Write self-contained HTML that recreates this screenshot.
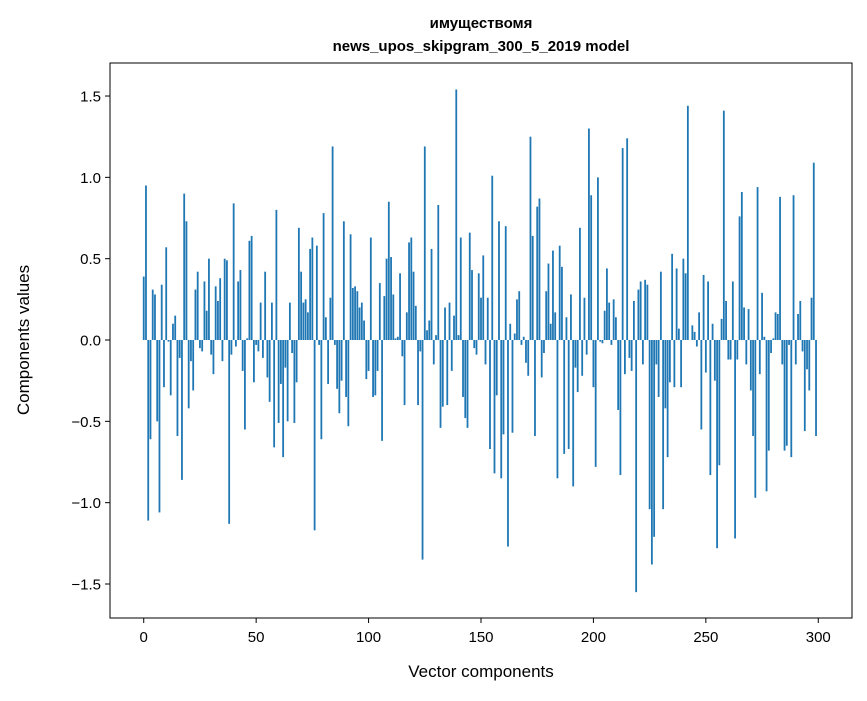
<!DOCTYPE html>
<html><head><meta charset="utf-8"><style>
body{margin:0;background:#fff;}
svg text{font-family:"Liberation Sans","DejaVu Sans",sans-serif;fill:#000;}
</style></head><body>
<svg id="chart" width="867" height="696">
<text x="481" y="28" text-anchor="middle" font-size="15" font-weight="bold">имуществомя</text>
<text x="481" y="51" text-anchor="middle" font-size="15" font-weight="bold">news_upos_skipgram_300_5_2019 model</text>
<g id="bars"></g>
<rect x="110" y="63" width="742" height="555" fill="none" stroke="#000" stroke-width="1"/>
<g id="xticks"></g>
<g id="yticks"></g>
<text x="481" y="677" text-anchor="middle" font-size="17">Vector components</text>
<text x="23" y="340" text-anchor="middle" font-size="17" transform="rotate(-90 23 340)" dy="6">Components values</text>
</svg>
<script>
const values = [
0.39,0.95,-1.11,-0.61,0.31,0.28,-0.50,-1.06,0.34,-0.29,
0.57,-0.01,-0.34,0.10,0.15,-0.59,-0.11,-0.86,0.90,0.73,
-0.42,-0.13,-0.31,0.31,0.42,-0.05,-0.07,0.36,0.18,0.50,
-0.09,-0.21,0.33,0.24,0.38,-0.13,0.50,0.49,-1.13,-0.09,
0.84,-0.04,0.36,0.43,-0.19,-0.55,0.01,0.61,0.64,-0.26,
-0.03,-0.07,0.23,-0.11,0.42,-0.23,-0.38,0.23,-0.66,0.80,
-0.51,-0.27,-0.72,-0.17,-0.50,0.23,-0.08,-0.51,-0.26,0.69,
0.42,0.23,0.25,0.17,0.56,0.63,-1.17,0.58,-0.03,-0.61,
0.78,0.14,-0.27,0.26,1.19,-0.03,-0.30,-0.45,-0.25,0.73,
-0.35,-0.53,0.65,0.32,0.33,0.30,0.20,0.23,0.12,-0.24,
-0.19,0.63,-0.35,-0.34,-0.19,0.35,-0.62,0.27,0.50,0.85,
0.51,0.28,0.01,0.02,0.41,-0.10,-0.40,0.17,0.60,0.63,
0.42,0.21,-0.40,-0.07,-1.35,1.19,0.06,0.12,0.56,-0.15,
0.03,0.83,-0.54,-0.41,0.20,-0.40,0.23,-0.19,0.15,1.54,
0.03,0.63,-0.35,-0.48,-0.54,0.66,0.43,-0.05,-0.09,0.41,
0.26,0.52,-0.15,0.26,-0.67,1.01,-0.82,-0.34,0.73,-0.85,
-0.58,0.70,-1.27,0.10,-0.57,0.04,0.25,0.30,-0.03,0.02,
-0.14,-0.22,1.25,0.64,-0.59,0.82,0.87,-0.23,-0.08,0.30,
0.47,0.10,0.55,0.17,-0.85,0.58,0.45,-0.70,0.14,-0.67,
0.28,-0.90,-0.17,-0.32,0.69,-0.22,0.26,-0.09,1.30,0.89,
-0.29,-0.78,1.00,-0.01,-0.02,0.18,0.44,0.23,-0.03,0.25,
0.14,-0.43,-0.83,1.18,-0.21,1.24,-0.11,-0.19,0.24,-1.55,
0.31,0.36,-0.15,0.37,0.34,-1.04,-1.38,-1.21,-0.15,-0.35,
0.42,-1.04,-0.42,-0.72,-0.26,0.53,-0.29,0.44,0.07,-0.29,
0.50,0.41,1.44,0.00,0.09,0.05,-0.04,0.17,-0.55,0.40,
-0.20,0.36,-0.83,0.10,-0.25,-1.28,-0.77,0.13,1.41,0.24,
-0.12,-0.12,0.36,-1.22,-0.12,0.76,0.91,0.20,-0.15,0.19,
-0.31,-0.59,-0.97,0.94,-0.21,0.29,0.02,-0.93,-0.68,-0.08,
0.01,0.17,0.16,0.88,-0.15,-0.68,-0.65,-0.03,-0.72,0.89,
-0.15,0.16,0.24,-0.07,-0.56,-0.18,-0.31,0.26,1.09,-0.59
];
const xTicks = [0,50,100,150,200,250,300];
const yTicks = [-1.5,-1.0,-0.5,0.0,0.5,1.0,1.5];
const yTickLabels = ["−1.5","−1.0","−0.5","0.0","0.5","1.0","1.5"];

const NS="http://www.w3.org/2000/svg";
const plot={left:110,right:852,top:63,bottom:618};
const xMin=-15, xMax=315, yMin=-1.709, yMax=1.703;
function xs(v){return plot.left+(v-xMin)/(xMax-xMin)*(plot.right-plot.left);}
function ys(v){return plot.bottom-(v-yMin)/(yMax-yMin)*(plot.bottom-plot.top);}

const barsG=document.getElementById('bars');
values.forEach((v,i)=>{
  const r=document.createElementNS(NS,'rect');
  const x0=xs(i-0.4), x1=xs(i+0.4);
  const y0=ys(Math.max(v,0)), y1=ys(Math.min(v,0));
  r.setAttribute('x',x0);
  r.setAttribute('width',x1-x0);
  r.setAttribute('y',y0);
  r.setAttribute('height',Math.max(y1-y0,0.01));
  r.setAttribute('fill','#1f77b4');
  
  
  barsG.appendChild(r);
});

const xg=document.getElementById('xticks');
xTicks.forEach(t=>{
  const x=xs(t);
  const l=document.createElementNS(NS,'line');
  l.setAttribute('x1',x);l.setAttribute('x2',x);
  l.setAttribute('y1',plot.bottom);l.setAttribute('y2',plot.bottom+5);
  l.setAttribute('stroke','#000');
  
  
  xg.appendChild(l);
  const tx=document.createElementNS(NS,'text');
  tx.setAttribute('x',x);tx.setAttribute('y',plot.bottom+24);
  tx.setAttribute('text-anchor','middle');tx.setAttribute('font-size','15');
  tx.textContent=t;
  
  
  xg.appendChild(tx);
});
const yg=document.getElementById('yticks');
yTicks.forEach((t,i)=>{
  const y=ys(t);
  const l=document.createElementNS(NS,'line');
  l.setAttribute('x1',plot.left-5);l.setAttribute('x2',plot.left);
  l.setAttribute('y1',y);l.setAttribute('y2',y);
  l.setAttribute('stroke','#000');
  
  
  yg.appendChild(l);
  const tx=document.createElementNS(NS,'text');
  tx.setAttribute('x',plot.left-9);tx.setAttribute('y',y+5.5);
  tx.setAttribute('text-anchor','end');tx.setAttribute('font-size','15');
  tx.textContent=yTickLabels[i];
  
  
  yg.appendChild(tx);
});
</script>
</body></html>
